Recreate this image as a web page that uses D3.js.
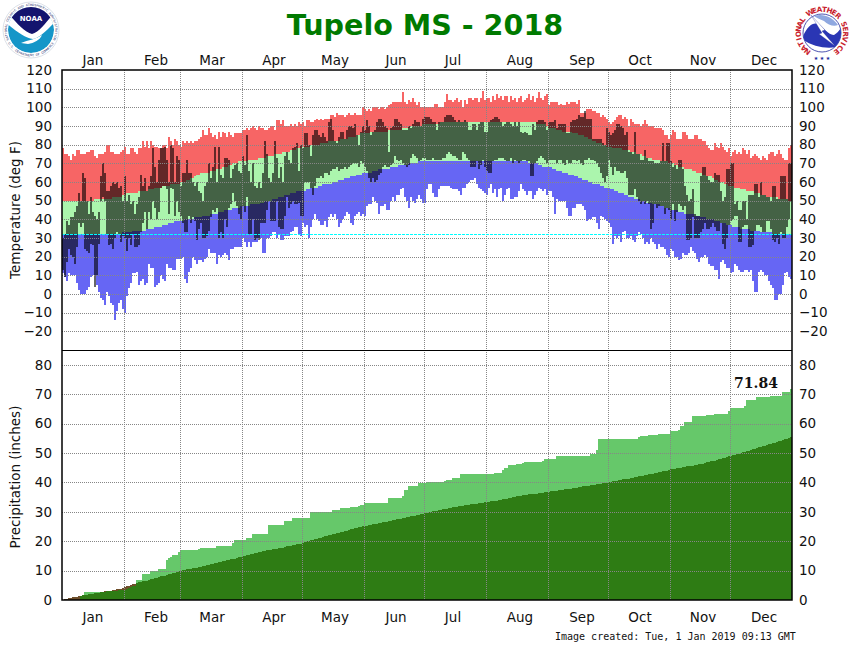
<!DOCTYPE html>
<html>
<head>
<meta charset="utf-8">
<title>Tupelo MS - 2018</title>
<script src="https://cdn.jsdelivr.net/npm/d3@7"></script>
<style>
  body { margin: 0; background: #fff; }
  text { font-family: "DejaVu Sans", sans-serif; }
</style>
</head>
<body>
<script>
//month labels and where they sit (day of year)
var months = ["Jan","Feb","Mar","Apr","May","Jun","Jul","Aug","Sep","Oct","Nov","Dec"];
var monthLabelDays = [15.5,47,75,106,136.5,167,195.5,229,260,289,320.5,351];
var monthStarts = [31,59,90,120,151,181,212,243,273,304,334];
var tempTicks = [-20,-10,0,10,20,30,40,50,60,70,80,90,100,110,120];
var precipTicks = [0,10,20,30,40,50,60,70,80];
var freezing = 32;
var precipTotal = "71.84";

//daily record high (deg F), one row per month
var recordHigh = [
  [78,75,75,74,72,75,74,77,77,75,75,75,76,76,77,77,74,73,75,75,75,76,80,80,76,76,75,75,75,76,77],
  [79,75,75,78,78,76,75,78,78,82,79,82,78,82,80,79,79,78,78,80,80,78,84,82,80,83,82,80],
  [79,82,81,82,81,82,81,82,82,83,84,88,85,85,89,86,84,85,83,87,84,87,86,84,87,85,84,86,86,86,86],
  [88,88,89,88,89,90,89,88,90,89,89,88,88,89,90,90,88,93,93,91,93,90,90,90,91,90,91,90,92,91],
  [92,90,93,93,92,92,93,94,93,94,93,94,94,94,96,96,95,97,96,96,96,95,96,97,96,96,97,96,96,96,100],
  [99,98,99,98,100,100,100,99,100,100,99,100,101,102,103,103,103,103,103,108,103,102,104,103,105,103,101,103,100,100],
  [100,100,100,100,100,102,102,100,100,100,103,107,104,104,103,104,105,103,104,100,104,102,105,105,104,105,105,103,105,109,104],
  [105,105,103,106,104,107,105,106,104,106,106,103,106,104,105,103,105,106,103,104,105,107,104,106,103,105,108,105,104,106,107],
  [101,103,103,103,103,101,102,101,101,103,102,103,103,103,102,104,97,97,97,99,99,99,98,98,97,97,95,96,95,94],
  [92,91,92,93,95,96,96,94,95,94,90,94,92,91,91,91,90,91,93,91,90,90,90,89,89,89,89,88,85,85,83],
  [85,88,87,83,83,83,87,87,85,83,83,83,85,85,83,83,82,82,80,78,77,77,81,79,78,81,79,77,76,78],
  [74,76,77,75,76,75,78,77,75,77,73,74,75,74,73,72,74,73,72,75,76,76,74,75,77,75,73,72,72,78,80]
].flat();

//daily record low
var recordLow = [
  [11,9,7,11,10,10,10,6,2,0,0,0,2,4,9,10,10,5,1,-2,-3,-6,1,-1,-5,-6,-14,-9,-5,-3,-8],
  [-10,-1,3,6,11,11,12,5,7,8,5,6,16,14,14,4,5,6,10,8,7,16,14,14,13,13,19,19],
  [19,20,8,6,12,14,20,18,16,18,18,17,19,20,24,22,22,22,16,21,20,21,22,21,18,24,24,25,25,25,25],
  [30,28,25,28,25,28,28,28,30,30,22,22,30,30,31,33,33,30,32,29,29,31,31,31,33,34,36,36,32,31],
  [38,36,37,30,36,40,43,40,39,37,37,39,36,41,43,41,43,40,36,38,40,42,44,43,38,37,42,43,44,42,43],
  [42,47,48,48,52,50,49,43,47,47,48,45,45,50,52,50,53,53,56,57,52,50,46,52,50,49,51,53,51,49],
  [49,56,59,59,54,52,52,56,58,58,58,58,58,57,56,56,56,55,53,57,57,59,60,61,61,62,59,57,56,55,54],
  [53,57,59,54,56,52,56,57,50,53,56,57,51,51,52,52,55,59,56,55,53,55,55,51,53,55,57,56,55,56,53],
  [55,55,52,43,51,50,50,50,50,46,42,42,46,46,48,48,48,47,45,39,40,40,41,41,38,35,42,41,40,39],
  [38,36,27,31,30,31,28,33,34,30,30,31,29,28,31,33,32,30,27,28,27,30,28,27,24,27,25,25,24,21,20],
  [24,23,20,20,18,19,22,21,21,22,25,23,22,19,17,20,20,21,20,16,15,15,13,13,8,17,18,16,14,14],
  [11,12,16,15,13,12,12,13,13,12,13,7,1,1,12,13,12,10,10,7,5,3,-3,-3,0,0,5,11,12,9,8]
].flat();

//daily normal high
var normalHigh = [
  [50,50,50,50,50,50,50,50,50,50,50,50,50,50,50,50,51,51,51,51,51,51,51,51,51,52,52,52,52,52,53],
  [53,54,54,54,54,54,54,55,55,55,55,55,56,56,56,57,57,57,57,58,58,58,58,59,59,59,59,59],
  [60,60,60,61,61,62,62,63,64,64,65,65,65,65,65,66,66,66,67,67,67,68,68,68,69,69,70,70,70,71,71],
  [71,71,71,72,72,72,72,72,73,73,73,73,74,74,74,74,75,75,75,75,76,76,76,76,77,77,77,78,78,78],
  [79,79,79,79,80,80,80,80,80,81,81,81,81,82,82,82,82,82,82,83,83,83,83,84,84,84,84,85,85,86,86],
  [86,86,86,87,87,87,87,87,87,87,87,87,88,88,88,88,88,88,88,89,89,89,89,90,90,90,90,90,90,91],
  [91,91,91,91,91,91,91,91,92,92,92,92,92,92,92,92,92,92,92,92,92,92,92,92,92,92,92,92,92,92,92],
  [92,92,92,92,92,92,92,92,92,92,92,92,92,92,92,92,92,92,92,92,92,92,92,92,92,91,91,91,91,91,90],
  [89,89,89,89,88,88,88,87,87,87,87,87,86,86,86,85,85,85,84,84,83,83,82,82,81,81,81,80,80,79],
  [79,79,78,78,78,78,78,77,77,77,77,76,76,76,75,75,75,74,74,73,73,73,72,72,72,72,71,71,71,71,70],
  [70,70,69,69,68,68,68,67,67,67,67,66,66,65,65,65,64,64,63,63,63,62,61,61,60,60,60,59,59,58],
  [58,58,57,57,57,56,56,56,55,55,55,55,54,54,54,53,53,53,52,52,52,52,52,52,51,51,51,51,51,50,50]
].flat();

//daily normal low
var normalLow = [
  [32,32,32,32,32,32,32,32,32,32,32,32,32,32,32,32,32,32,32,32,32,32,32,32,32,32,32,32,32,32,33],
  [33,33,33,33,34,34,34,34,34,34,34,35,35,35,35,36,36,36,36,37,37,37,38,38,38,39,39,39],
  [39,39,40,40,40,40,40,41,41,41,41,42,42,42,42,43,43,43,43,44,44,44,45,45,45,45,46,46,46,46,47],
  [47,47,47,47,48,48,48,48,48,49,49,50,50,50,50,51,51,51,52,52,52,53,53,53,54,54,54,55,55,55],
  [55,55,56,56,57,57,57,57,58,58,59,59,59,59,59,60,60,60,61,61,61,62,62,62,63,63,63,64,64,64,65],
  [65,65,65,65,66,66,66,67,67,67,67,67,67,68,68,68,68,69,69,69,69,69,70,70,70,70,70,71,71,71],
  [71,71,71,71,71,71,71,71,71,71,71,71,71,71,71,71,71,71,71,71,71,71,71,71,71,71,71,71,71,71,71],
  [71,71,71,71,71,71,71,71,71,71,71,71,71,71,71,71,71,71,71,71,71,70,70,70,70,70,69,69,68,68,68],
  [68,68,67,67,66,66,66,65,65,65,64,64,64,63,63,62,62,61,61,61,60,60,59,59,59,59,58,58,57,57],
  [57,56,56,55,55,54,54,54,53,53,52,52,52,51,51,51,50,50,50,49,49,49,48,48,48,48,47,47,46,46,46],
  [45,45,45,45,44,44,44,43,43,43,43,43,42,42,42,41,41,41,40,40,40,40,39,39,39,38,38,38,37,37],
  [37,36,36,36,36,35,35,35,35,35,34,34,34,34,34,33,33,33,33,33,33,32,32,32,32,32,32,32,32,32,32]
].flat();

//2018 observed high
var obsHigh = [
  [30,32,39,37,41,41,44,47,54,50,65,62,50,43,52,44,42,40,44,63,70,65,55,55,58,60,59,60,57,58,50],
  [63,50,53,48,50,43,48,52,64,58,62,55,58,63,78,68,60,72,78,78,79,72,60,80,78,60,74,72],
  [58,65,65,72,65,65,60,58,60,55,54,50,58,60,70,62,68,79,60,79,64,62,73,73,72,62,67,69,70,66,65],
  [74,69,85,66,60,70,58,57,60,57,65,82,75,62,60,65,82,73,62,68,60,74,76,72,70,78,79,81,66,80],
  [78,86,86,80,74,85,88,88,85,84,86,84,82,92,94,88,82,81,84,87,87,83,88,90,90,89,91,85,80,87,90],
  [88,93,90,85,87,88,92,94,94,92,90,89,76,89,90,94,94,92,91,88,88,88,90,89,91,93,92,92,90,94],
  [95,95,95,94,92,92,88,92,92,92,95,96,96,96,95,93,92,93,92,92,93,92,88,88,91,91,88,91,92,92,87],
  [87,92,93,94,95,95,94,92,90,91,92,92,91,90,92,90,92,87,86,87,86,85,85,91,88,92,93,93,93,92,88],
  [92,92,92,93,89,91,91,91,91,86,86,92,93,93,94,96,95,95,98,94,94,94,83,83,83,83,83,81,80,89],
  [87,85,86,88,91,91,90,89,85,87,76,76,75,87,75,75,72,72,77,73,71,71,71,70,70,70,71,81,71,81,81],
  [71,68,69,67,72,72,67,58,53,50,51,56,43,42,42,63,68,68,63,61,60,60,65,64,64,55,50,52,67,67],
  [70,70,48,50,45,45,50,50,40,53,53,53,59,59,52,60,53,53,52,52,50,58,58,51,51,63,63,63,51,70,70]
].flat();

//2018 observed low
var obsLow = [
  [13,9,17,24,21,20,16,25,38,36,38,24,23,22,27,26,4,10,27,50,52,50,32,26,27,24,30,33,32,28,31],
  [30,23,30,26,32,25,25,26,33,38,44,35,44,40,50,46,40,44,57,58,58,56,43,57,56,42,50,44],
  [42,38,33,33,42,38,41,39,29,35,38,30,30,31,34,41,45,44,46,30,33,30,40,36,46,48,54,50,47,43,40],
  [47,44,52,32,32,40,29,30,29,38,38,38,45,50,39,39,39,50,36,35,35,42,52,46,48,50,48,48,49,42],
  [42,60,60,60,57,53,58,62,62,63,62,65,65,64,66,67,67,68,66,67,67,68,67,68,69,70,70,70,68,71,70],
  [68,66,62,60,62,60,61,64,65,68,69,68,68,69,70,74,72,71,72,70,69,68,69,73,75,74,73,71,72,73],
  [73,72,72,72,73,72,72,72,72,73,73,75,76,75,74,74,73,72,72,76,75,73,72,68,68,68,71,67,69,72,68],
  [66,65,65,71,72,72,73,73,73,72,71,71,73,70,72,71,70,71,72,72,71,71,63,63,70,71,73,74,73,72,70],
  [72,72,72,72,70,72,72,70,69,72,70,70,72,72,71,72,70,69,72,72,73,72,72,71,70,68,65,62,60,63],
  [72,68,64,68,66,66,65,65,66,62,53,53,53,56,52,50,48,50,48,50,48,35,38,48,46,47,47,47,43,46,45],
  [40,48,39,44,48,47,45,47,29,29,30,41,30,30,30,33,35,38,35,35,36,38,36,34,34,38,27,24,30,37],
  [39,40,42,42,28,28,36,37,37,25,25,26,34,37,37,36,33,33,39,39,35,29,28,30,27,33,30,30,36,40,50]
].flat();

//cumulative precipitation 2018 (inches)
var obsPrecip = [
  [0,0,0,0,0,0,0,0,0.1,1.3,1.7,2.7,2.7,2.7,2.7,2.7,2.7,2.7,2.7,2.7,2.7,2.8,2.9,2.9,3.0,3.0,3.1,3.2,3.3,3.4,3.4],
  [3.5,3.6,4.0,4.3,4.6,4.9,6.8,6.8,6.8,8.9,8.9,8.9,8.9,9.9,9.9,9.9,9.9,10.5,10.5,10.5,10.5,13.7,14.3,14.6,15.4,15.4,15.4,16.3],
  [17.1,17.1,17.1,17.1,17.1,17.1,17.1,17.1,17.1,17.5,17.8,17.8,17.8,17.8,17.8,17.8,17.8,17.8,18.2,18.2,18.2,18.2,18.2,18.2,18.2,18.2,19.5,20.3,20.3,20.3,20.3],
  [20.5,20.5,21.1,21.1,21.1,22.6,22.6,22.6,22.6,22.6,22.6,22.6,22.6,25.4,25.4,25.4,25.4,25.4,25.4,25.4,25.4,26.7,26.7,26.7,26.7,27.8,27.8,27.8,27.8,27.8],
  [27.8,27.8,27.8,27.8,29.9,29.9,29.9,29.9,29.9,29.9,29.9,29.9,29.9,29.9,29.9,30.6,30.6,30.6,30.6,31.3,31.3,31.3,31.3,31.3,31.6,31.6,31.6,31.6,31.9,32.3,32.3],
  [33.0,33.0,33.0,33.0,33.0,33.0,33.0,33.0,33.0,33.0,33.0,33.0,34.7,34.7,34.7,34.7,34.7,34.7,34.7,35.4,37.4,37.4,38.8,38.8,38.8,38.8,38.8,39.8,39.8,39.8],
  [39.8,40.2,40.2,40.2,40.2,40.2,40.2,40.2,40.2,40.2,40.5,40.9,40.9,40.9,41.5,41.5,41.5,41.5,42.9,42.9,42.9,42.9,42.9,42.9,42.9,42.9,42.9,42.9,42.9,42.9,42.9],
  [42.9,42.9,42.9,42.9,43.3,43.3,43.3,43.3,44.3,45.0,45.0,46.0,46.0,46.0,46.0,46.3,46.3,46.3,46.6,47.0,47.0,47.0,47.0,47.0,47.0,47.0,47.0,47.0,47.3,47.9,47.9],
  [47.9,47.9,47.9,47.9,48.9,48.9,48.9,48.9,48.9,48.9,48.9,48.9,48.9,48.9,48.9,48.9,48.9,48.9,48.9,48.9,48.9,49.8,49.8,49.8,51.0,54.7,54.7,54.7,54.7,54.7],
  [54.7,54.7,54.7,54.7,54.7,54.7,54.7,54.7,54.7,54.7,54.7,54.7,54.7,54.7,54.7,55.4,55.7,55.7,55.7,55.7,56.0,56.0,56.0,56.0,56.0,56.4,56.4,56.4,56.4,56.4,56.4],
  [57.4,57.4,57.4,57.4,57.7,59.2,59.2,60.5,60.5,60.5,60.5,62.5,62.5,62.5,62.5,62.5,62.5,62.5,62.9,62.9,62.9,62.9,63.2,63.2,63.2,63.2,63.2,63.2,63.2,64.3],
  [65.2,65.2,65.2,65.2,65.2,65.2,65.2,66.0,68.0,68.0,68.0,68.0,68.0,69.0,69.0,69.0,69.0,69.0,69.0,69.0,69.3,69.3,69.3,69.3,69.3,69.3,70.8,70.8,70.8,70.8,71.84]
].flat();

//cumulative normal precipitation
var normalPrecip = [
  [0.1,0.3,0.4,0.6,0.7,0.9,1.0,1.1,1.3,1.4,1.6,1.7,1.8,1.9,2.0,2.1,2.3,2.4,2.5,2.7,2.8,2.9,3.0,3.1,3.2,3.4,3.5,3.6,3.8,3.9,4.1],
  [4.3,4.6,4.8,5.1,5.3,5.6,5.9,6.0,6.2,6.3,6.5,6.6,6.8,7.0,7.2,7.4,7.6,7.8,8.0,8.2,8.3,8.5,8.7,8.9,9.1,9.3,9.5,9.7],
  [10.0,10.1,10.3,10.4,10.5,10.7,10.8,10.9,11.0,11.2,11.3,11.5,11.6,11.8,11.9,12.1,12.3,12.5,12.7,12.8,13.0,13.1,13.3,13.5,13.7,13.8,14.0,14.1,14.3,14.5,14.6],
  [14.8,15.0,15.2,15.3,15.5,15.7,15.9,16.0,16.2,16.4,16.5,16.7,16.9,17.0,17.1,17.2,17.3,17.5,17.6,17.7,17.8,18.0,18.2,18.3,18.5,18.6,18.8,18.9,19.1,19.2],
  [19.5,19.7,19.9,20.1,20.3,20.5,20.7,20.9,21.1,21.2,21.4,21.6,21.8,22.0,22.2,22.3,22.5,22.7,22.9,23.0,23.2,23.4,23.6,23.8,24.0,24.2,24.4,24.5,24.7,24.9,25.0],
  [25.1,25.3,25.4,25.5,25.7,25.8,25.9,26.1,26.2,26.4,26.5,26.6,26.8,26.9,27.1,27.3,27.4,27.5,27.7,27.8,28.0,28.1,28.2,28.4,28.5,28.6,28.8,28.9,29.1,29.3],
  [29.5,29.6,29.8,29.9,30.1,30.3,30.4,30.6,30.7,30.8,31.0,31.1,31.2,31.3,31.5,31.6,31.7,31.8,31.9,32.0,32.2,32.3,32.4,32.5,32.6,32.7,32.8,32.9,33.0,33.1,33.2],
  [33.3,33.4,33.5,33.6,33.7,33.8,33.9,34.1,34.2,34.3,34.5,34.6,34.8,34.9,35.0,35.2,35.3,35.5,35.6,35.7,35.8,35.9,36.0,36.0,36.1,36.2,36.3,36.4,36.5,36.6,36.7],
  [36.8,36.9,37.0,37.1,37.2,37.3,37.4,37.5,37.6,37.7,37.8,37.9,38.0,38.1,38.2,38.4,38.5,38.6,38.7,38.8,38.9,39.0,39.1,39.2,39.3,39.4,39.5,39.7,39.8,39.9],
  [40.0,40.2,40.3,40.5,40.6,40.8,40.9,41.0,41.1,41.2,41.3,41.4,41.5,41.7,41.8,42.0,42.1,42.2,42.4,42.5,42.7,42.8,43.0,43.1,43.2,43.4,43.5,43.7,43.9,44.0,44.2],
  [44.4,44.5,44.6,44.8,44.9,45.0,45.1,45.2,45.4,45.5,45.6,45.7,45.8,46.0,46.1,46.3,46.4,46.6,46.8,46.9,47.1,47.2,47.4,47.6,47.8,48.0,48.2,48.4,48.6,48.8],
  [49.0,49.2,49.4,49.6,49.8,50.0,50.2,50.4,50.6,50.8,51.0,51.2,51.4,51.6,51.9,52.1,52.3,52.5,52.7,52.9,53.1,53.3,53.5,53.7,53.9,54.1,54.4,54.6,54.9,55.2,55.4]
].flat();

//define svg parameters
var svgWidth = 850;
var svgHeight = 650;
var plotLeft = 62;
var plotRight = 792;
var tempTop = 70;
var panelSplit = 350;
var precipBottom = 600;

var gridColor = "#868686";

var svg = d3.select("body")
    .append("svg")
    .attr("width", svgWidth)
    .attr("height", svgHeight)
    .style("display", "block");

//scales
var x = d3.scaleLinear().domain([0, 365]).range([plotLeft, plotRight]);
var yTemp = d3.scaleLinear().domain([-30, 120]).range([panelSplit, tempTop]);
var yPrecip = d3.scaleLinear().domain([0, 85]).range([precipBottom, panelSplit]);

var days = d3.range(365);

function bars(name, scale, lo, hi, color, opacity) {
    svg.append("g").attr("class", name)
        .attr("shape-rendering", "crispEdges")
        .selectAll("rect")
        .data(days)
        .join("rect")
        .attr("x", d => x(d))
        .attr("width", d => x(d + 1) - x(d))
        .attr("y", d => scale(hi(d)))
        .attr("height", d => Math.max(0, scale(lo(d)) - scale(hi(d))))
        .attr("fill", color)
        .attr("fill-opacity", opacity);
}

//temperature panel
bars("record-high", yTemp, d => normalHigh[d], d => recordHigh[d], "#f76565", 1);
bars("normal-band", yTemp, d => normalLow[d], d => normalHigh[d], "#abf5ad", 1);
bars("record-low", yTemp, d => recordLow[d], d => normalLow[d], "#6666f4", 1);
bars("observed", yTemp, d => obsLow[d], d => obsHigh[d], "#000", 0.6);

//precipitation panel
bars("normal-above", yPrecip, d => 0, d => normalPrecip[d], "#6e4e2a", 1);
bars("obs-precip", yPrecip, d => 0, d => obsPrecip[d], "#66c86a", 1);
bars("normal-precip", yPrecip, d => 0, d => Math.min(obsPrecip[d], normalPrecip[d]), "#2e7c14", 1);

//grid lines go over the data
function grid(axis, translate) {
    var g = svg.append("g")
        .attr("transform", translate)
        .attr("shape-rendering", "crispEdges")
        .call(axis);
    g.selectAll("text").remove();
    g.select(".domain").remove();
    g.selectAll("line")
        .attr("stroke", gridColor)
        .attr("stroke-dasharray", "1,1");
}
grid(d3.axisLeft(yTemp).tickValues(tempTicks.slice(0, -1)).tickSize(-(plotRight - plotLeft)), `translate(${plotLeft},0)`);
grid(d3.axisLeft(yPrecip).tickValues(precipTicks.slice(1)).tickSize(-(plotRight - plotLeft)), `translate(${plotLeft},0)`);
grid(d3.axisTop(x).tickValues(monthStarts).tickSize(-(panelSplit - tempTop)), `translate(0,${tempTop})`);
grid(d3.axisTop(x).tickValues(monthStarts).tickSize(-(precipBottom - panelSplit)), `translate(0,${panelSplit})`);

//freezing line
svg.append("line")
    .attr("x1", plotLeft)
    .attr("x2", plotRight)
    .attr("y1", yTemp(freezing))
    .attr("y2", yTemp(freezing))
    .attr("stroke", "#00ffff")
    .attr("stroke-dasharray", "3,1")
    .attr("shape-rendering", "crispEdges");

//value axes on both sides
function valueAxis(axis, translate) {
    var g = svg.append("g").attr("transform", translate).call(axis);
    g.select(".domain").remove();
    g.selectAll("line").remove();
    g.selectAll("text")
        .style("font-family", '"DejaVu Sans", sans-serif')
        .style("font-size", "13.5px")
        .attr("fill", "#111");
}
valueAxis(d3.axisLeft(yTemp).tickValues(tempTicks).tickSize(0).tickPadding(10), `translate(${plotLeft},0)`);
valueAxis(d3.axisRight(yTemp).tickValues(tempTicks).tickSize(0).tickPadding(7), `translate(${plotRight},0)`);
valueAxis(d3.axisLeft(yPrecip).tickValues(precipTicks).tickSize(0).tickPadding(10), `translate(${plotLeft},0)`);
valueAxis(d3.axisRight(yPrecip).tickValues(precipTicks).tickSize(0).tickPadding(7), `translate(${plotRight},0)`);

//panel frames
svg.append("rect")
    .attr("x", plotLeft)
    .attr("y", tempTop)
    .attr("width", plotRight - plotLeft)
    .attr("height", precipBottom - tempTop)
    .attr("fill", "none")
    .attr("stroke", "#000")
    .attr("stroke-width", 1.5);
svg.append("line")
    .attr("x1", plotLeft)
    .attr("x2", plotRight)
    .attr("y1", panelSplit)
    .attr("y2", panelSplit)
    .attr("stroke", "#000")
    .attr("shape-rendering", "crispEdges");

//month labels top and bottom
[65, 622].forEach(function(labelY) {
    svg.append("g").selectAll("text")
        .data(months)
        .join("text")
        .attr("x", (d, i) => x(monthLabelDays[i]))
        .attr("y", labelY)
        .attr("text-anchor", "middle")
        .attr("font-size", "13.5px")
        .attr("fill", "#111")
        .text(d => d);
});

//titles
svg.append("text")
    .attr("x", 425)
    .attr("y", 35)
    .attr("text-anchor", "middle")
    .attr("font-size", "28.6px")
    .attr("font-weight", "bold")
    .attr("fill", "#007a00")
    .text("Tupelo MS - 2018");

svg.append("text")
    .attr("transform", "translate(20,210) rotate(-90)")
    .attr("text-anchor", "middle")
    .attr("font-size", "13.5px")
    .attr("fill", "#111")
    .text("Temperature (deg F)");

svg.append("text")
    .attr("transform", "translate(20,477) rotate(-90)")
    .attr("text-anchor", "middle")
    .attr("font-size", "13.5px")
    .attr("fill", "#111")
    .text("Precipitation (inches)");

svg.append("text")
    .attr("x", 756)
    .attr("y", 388)
    .attr("text-anchor", "middle")
    .attr("font-size", "14px")
    .attr("font-weight", "bold")
    .style("font-family", '"DejaVu Serif", serif')
    .attr("fill", "#111")
    .text(precipTotal);

svg.append("text")
    .attr("x", 555)
    .attr("y", 640)
    .attr("font-size", "10px")
    .style("font-family", '"DejaVu Sans Mono", monospace')
    .attr("fill", "#111")
    .text("Image created: Tue, 1 Jan 2019 09:13 GMT");

//letters set one by one round a ring, angles in degrees clockwise from the top
function ringText(parent, label, radius, fromDeg, toDeg, size, color, weight) {
    var letters = label.split("");
    var angle = d3.scaleLinear().domain([0, letters.length - 1]).range([fromDeg, toDeg]);
    var flip = toDeg < fromDeg;
    parent.append("g").selectAll("text")
        .data(letters)
        .join("text")
        .attr("transform", (d, i) => `rotate(${angle(i)}) translate(0,${flip ? radius : -radius})`)
        .attr("text-anchor", "middle")
        .attr("font-size", size)
        .attr("font-weight", weight)
        .attr("fill", color)
        .text(d => d);
}

//noaa logo
var defs = svg.append("defs");
defs.append("clipPath").attr("id", "noaaClip").append("circle").attr("r", 23);
var noaa = svg.append("g").attr("transform", "translate(31,30)");
noaa.append("circle").attr("r", 28).attr("fill", "#fff").attr("stroke", "#c4ccd8").attr("stroke-width", 0.6);
var noaaInner = noaa.append("g").attr("clip-path", "url(#noaaClip)");
noaaInner.append("circle").attr("r", 23).attr("fill", "#1596c8");
noaaInner.append("path").attr("fill", "#fff")
    .attr("d", "M -26 -8 C -14 2 -6 8 2 9 C 9 8 16 0 26 -10 L 26 -30 L -26 -30 Z");
noaaInner.append("path").attr("fill", "#14146e")
    .attr("d", "M -22 -16 C -14 -6 -6 2 1 4 C 8 2 14 -6 22 -16 L 22 -30 L -22 -30 Z");
noaaInner.append("path").attr("fill", "#fff")
    .attr("d", "M -10 13 C -3 10 6 9 11 5 C 9 10 3 13 -3 14 Z");
noaa.append("text")
    .attr("text-anchor", "middle")
    .attr("y", -9)
    .attr("font-size", "7px")
    .attr("font-weight", "bold")
    .attr("fill", "#fff")
    .text("NOAA");
ringText(noaa, "NATIONAL OCEANIC AND ATMOSPHERIC ADMINISTRATION", 24.2, -112, 112, "3px", "#1b2a6b", "normal");
ringText(noaa, "U.S. DEPARTMENT OF COMMERCE", 26.4, 58, -58, "3px", "#1b2a6b", "normal");

//nws logo
defs.append("clipPath").attr("id", "nwsClip").append("circle").attr("r", 19);
var nws = svg.append("g").attr("transform", "translate(822,33)");
nws.append("circle").attr("r", 19).attr("fill", "#fff").attr("stroke", "#20289a").attr("stroke-width", 0.8);
var nwsInner = nws.append("g").attr("clip-path", "url(#nwsClip)");
nwsInner.append("path").attr("fill", "#2a36b4")
    .attr("d", "M -20 6 C -15 -8 -8 -12 -2 -8 C 4 -2 8 2 12 2 C 16 0 18 -4 21 -8 L 21 12 C 10 17 -8 15 -20 6 Z");
nwsInner.append("path").attr("fill", "#8fa8e0")
    .attr("d", "M -8 -17 C 0 -20 10 -17 16 -8 C 12 -6 6 -8 2 -12 C -2 -14 -6 -15 -8 -17 Z");
nws.append("path").attr("fill", "#fff").attr("stroke", "#20289a").attr("stroke-width", 0.3)
    .attr("d", "M -11 -18 L 3 -3 L 0 -2 L 13 13 L -3 1 L 0 0 Z");
ringText(nws, "NATIONAL WEATHER SERVICE", 21.2, -142, 142, "7.2px", "#c8202c", "bold");
nws.append("text").attr("y", 27).attr("text-anchor", "middle").attr("font-size", "5px").attr("fill", "#20289a")
    .text("★ ★ ★");
</script>
</body>
</html>
